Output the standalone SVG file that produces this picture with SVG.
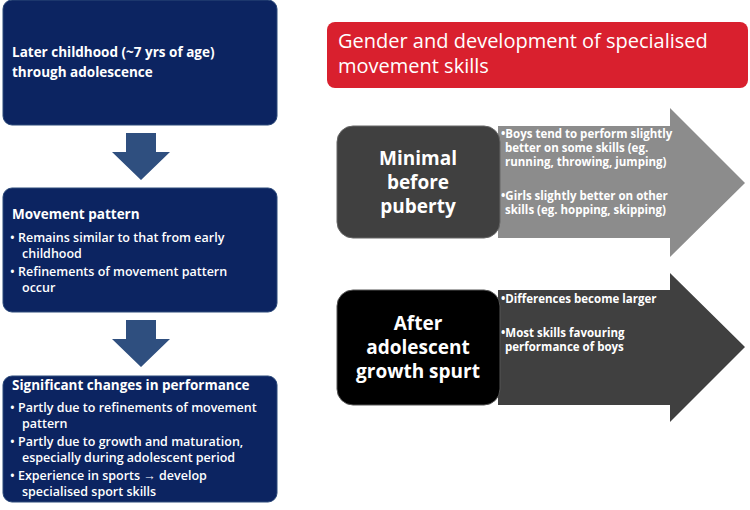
<svg xmlns="http://www.w3.org/2000/svg" width="750" height="510" viewBox="0 0 750 510">
<style>
text{font-family:"Open Sans","Liberation Sans",sans-serif;fill:#fff}
.nb{fill:#0c2461;stroke:#2c4a7a;stroke-width:1}
.t{font-size:13.5px;font-weight:bold}
.s{font-size:12.5px;font-weight:600}
.h{font-size:19px;font-weight:bold}
.ab{font-size:11.5px;font-weight:bold}
.dn{fill:#2f4f7f}
</style>
<g id="n1"><rect class="nb" x="3" y="0" width="274" height="125" rx="9"/>
<text class="t" x="12" y="57">Later childhood (~7 yrs of age)</text><text class="t" x="12" y="77">through adolescence</text></g>
<g id="n2"><rect class="nb" x="3" y="188" width="274" height="124" rx="9"/>
<text class="t" x="12" y="219">Movement pattern</text>
<text class="s" x="10" y="242">• Remains similar to that from early</text><text class="s" x="22" y="258">childhood</text>
<text class="s" x="10" y="276">• Refinements of movement pattern</text><text class="s" x="22" y="292">occur</text></g>
<g id="n3"><rect class="nb" x="3" y="376" width="274" height="126" rx="9"/>
<text class="t" x="12" y="390">Significant changes in performance</text>
<text class="s" x="10" y="412">• Partly due to refinements of movement</text><text class="s" x="22" y="428">pattern</text>
<text class="s" x="10" y="446">• Partly due to growth and maturation,</text><text class="s" x="22" y="462">especially during adolescent period</text>
<text class="s" x="10" y="480">• Experience in sports → develop</text><text class="s" x="22" y="496">specialised sport skills</text></g>
<g id="connectors">
<polygon class="dn" points="126,133 156,133 156,152 170,152 141,180 112,152 126,152"/>
<polygon class="dn" points="126,320 156,320 156,339 170,339 141,367 112,339 126,339"/>
</g>
<g id="title"><rect x="327" y="22" width="421" height="66" rx="8" fill="#d9202e"/>
<text x="338" y="48" style="font-size:20px">Gender and development of specialised</text><text x="338" y="73" style="font-size:20px">movement skills</text></g>
<g id="arrow1"><polygon points="498,126 670,126 670,108 745,183 670,257 670,238 498,238" fill="#8c8c8c"/>
<text class="ab" x="501" y="138">•Boys tend to perform slightly</text><text class="ab" x="505" y="152">better on some skills (eg.</text><text class="ab" x="505" y="166">running, throwing, jumping)</text>
<text class="ab" x="501" y="200">•Girls slightly better on other</text><text class="ab" x="505" y="214">skills (eg. hopping, skipping)</text></g>
<g id="box1"><rect x="337" y="126" width="163" height="112" rx="16" fill="#404040" stroke="#666"/>
<text class="h" x="418" y="165" text-anchor="middle">Minimal</text><text class="h" x="418" y="189" text-anchor="middle">before</text><text class="h" x="418" y="213" text-anchor="middle">puberty</text></g>
<g id="arrow2"><polygon points="498,290 670,290 670,273 745,347 670,422 670,405 498,405" fill="#404040"/>
<text class="ab" x="501" y="303">•Differences become larger</text>
<text class="ab" x="501" y="337">•Most skills favouring</text><text class="ab" x="505" y="351">performance of boys</text></g>
<g id="box2"><rect x="337" y="290" width="163" height="115" rx="16" fill="#000" stroke="#555"/>
<text class="h" x="418" y="330" text-anchor="middle">After</text><text class="h" x="418" y="354" text-anchor="middle">adolescent</text><text class="h" x="418" y="378" text-anchor="middle">growth spurt</text></g>
</svg>
